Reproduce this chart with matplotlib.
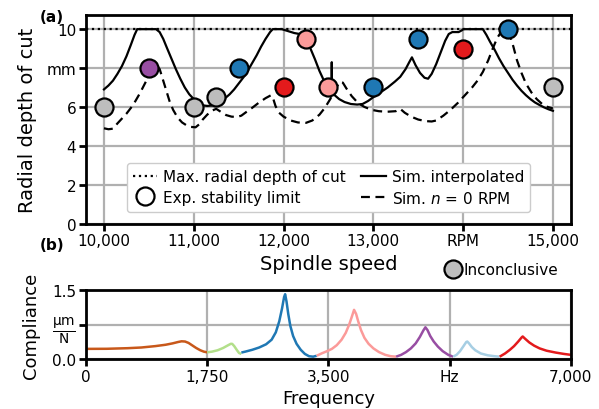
import numpy as np
import matplotlib
matplotlib.use("Agg")
import matplotlib.pyplot as plt
from matplotlib.lines import Line2D

plt.rcParams['font.family'] = ['DejaVu Sans']
plt.rcParams['font.size'] = 11
plt.rcParams['mathtext.fontset'] = 'dejavusans'

# Stability lobes: simulated limit, interpolated
sim_interp_rpm = [10000, 10050, 10100, 10150, 10200, 10250, 10300, 10340, 10370, 10580,
                  10620, 10660, 10700, 10750, 10800, 10850, 10900, 10950, 11000, 11050,
                  11100, 11150, 11200, 11250, 11300, 11350, 11400, 11450, 11500, 11550,
                  11600, 11650, 11700, 11750, 11800, 11850, 11880, 11980, 12050, 12120,
                  12180, 12220, 12260, 12300, 12350, 12400, 12450, 12500, 12535, 12537,
                  12540, 12570, 12620, 12680, 12750, 12820, 12880, 12940, 13000, 13080,
                  13160, 13240, 13300, 13360, 13400, 13430, 13470, 13520, 13570, 13610,
                  13650, 13700, 13750, 13800, 13840, 13880, 13950, 13990, 14000, 14220,
                  14260, 14300, 14350, 14400, 14450, 14500, 14550, 14600, 14650, 14700,
                  14750, 14800, 14850, 14900, 14950, 15000]
sim_interp_depth = [6.9, 7.1, 7.35, 7.7, 8.1, 8.6, 9.2, 9.7, 10.0, 10.0,
                    9.85, 9.5, 9.05, 8.5, 7.95, 7.45, 7.0, 6.65, 6.4, 6.2,
                    6.08, 6.05, 6.07, 6.15, 6.3, 6.45, 6.65, 6.9, 7.2, 7.5,
                    7.85, 8.25, 8.65, 9.1, 9.5, 9.85, 10.0, 10.0, 9.9, 9.8,
                    9.75, 9.6, 9.35, 9.0, 8.45, 7.85, 7.35, 7.0, 6.82, 8.3,
                    6.78, 6.6, 6.4, 6.25, 6.15, 6.12, 6.15, 6.3, 6.5, 6.75,
                    7.0, 7.3, 7.55, 7.95, 8.3, 8.55, 8.15, 7.75, 7.5, 7.45,
                    7.7, 8.2, 8.8, 9.4, 9.75, 9.85, 9.85, 9.95, 10.0, 10.0,
                    9.7, 9.35, 8.95, 8.5, 8.1, 7.75, 7.4, 7.1, 6.83, 6.6,
                    6.4, 6.23, 6.1, 5.98, 5.88, 5.8]

# Stability lobes: simulated limit at n = 0 RPM
sim_n0_rpm = [10000, 10050, 10100, 10150, 10200, 10250, 10300, 10350, 10400, 10450,
              10500, 10550, 10590, 10620, 10650, 10690, 10730, 10770, 10820, 10870,
              10920, 10970, 11020, 11060, 11100, 11150, 11200, 11250, 11300, 11360,
              11420, 11480, 11530, 11580, 11650, 11720, 11800, 11860, 11880, 11910,
              11950, 12000, 12080, 12160, 12250, 12320, 12400, 12460, 12520, 12580,
              12630, 12660, 12700, 12760, 12830, 12900, 12980, 13060, 13150, 13250,
              13300, 13350, 13420, 13500, 13580, 13650, 13700, 13780, 13860, 13940,
              14020, 14100, 14160, 14220, 14280, 14330, 14380, 14430, 14480, 14520,
              14560, 14600, 14650, 14700, 14760, 14820, 14880, 14940, 15000]
sim_n0_depth = [4.9, 4.85, 4.88, 5.15, 5.4, 5.65, 5.95, 6.3, 6.7, 7.15,
                7.6, 7.95, 8.1, 7.95, 7.5, 6.9, 6.3, 5.85, 5.45, 5.2,
                5.05, 4.97, 4.95, 5.1, 5.35, 5.6, 5.8, 5.9, 5.75, 5.58,
                5.5, 5.48, 5.55, 5.72, 5.95, 6.2, 6.45, 6.6, 6.5, 6.05,
                5.7, 5.5, 5.3, 5.2, 5.18, 5.3, 5.6, 5.95, 6.4, 6.95,
                7.3, 7.25, 6.95, 6.55, 6.2, 6.0, 5.85, 5.78, 5.75, 5.78,
                5.9, 5.7, 5.5, 5.35, 5.27, 5.25, 5.3, 5.55, 5.85, 6.2,
                6.6, 7.0, 7.35, 7.8, 8.4, 9.0, 9.55, 9.9, 10.0, 9.7,
                9.1, 8.4, 7.75, 7.2, 6.75, 6.4, 6.15, 6.0, 5.92]

max_depth = 10

# Experimental stability limit
exp_rpm = [10000, 10500, 11000, 11250, 11500, 12000, 12250, 12500, 13000, 13500, 14000, 14500, 15000]
exp_depth = [6, 8, 6, 6.5, 8, 7, 9.5, 7, 7, 9.5, 9, 10, 7]
exp_mode = ['gray', 'purple', 'gray', 'gray', 'blue', 'red', 'pink', 'pink',
            'blue', 'blue', 'red', 'blue', 'gray']

mode_colors = {
    'brown': '#c8581a',
    'green': '#b2df8a',
    'blue': '#1f78b4',
    'pink': '#fb9a99',
    'purple': '#984ea3',
    'lightblue': '#a6cee3',
    'red': '#e31a1c',
    'gray': '#bdbdbd',
}

# Compliance FRF, split by dominant mode
frf_segments = {
    'brown': ([0, 300, 600, 800, 1000, 1150, 1250, 1330, 1380, 1430, 1480, 1530, 1590, 1650, 1700, 1750],
              [0.22, 0.222, 0.235, 0.25, 0.28, 0.31, 0.34, 0.37, 0.385, 0.38, 0.35, 0.3, 0.24, 0.19, 0.16, 0.145]),
    'green': ([1750, 1820, 1900, 1980, 2040, 2090, 2110, 2140, 2180, 2210, 2243],
              [0.145, 0.16, 0.19, 0.24, 0.29, 0.33, 0.33, 0.28, 0.19, 0.13, 0.11]),
    'blue': ([2243, 2300, 2400, 2500, 2600, 2680, 2740, 2790, 2830, 2860, 2875, 2895, 2920, 2950,
              2990, 3040, 3100, 3160, 3220, 3280, 3330],
             [0.14, 0.16, 0.2, 0.25, 0.32, 0.42, 0.58, 0.82, 1.1, 1.35, 1.41, 1.25, 0.98, 0.72,
              0.5, 0.33, 0.2, 0.11, 0.06, 0.05, 0.07]),
    'pink': ([3330, 3400, 3480, 3550, 3620, 3690, 3750, 3800, 3840, 3870, 3900, 3930, 3970, 4020,
              4080, 4150, 4230, 4320, 4400, 4477],
             [0.07, 0.12, 0.17, 0.22, 0.3, 0.42, 0.57, 0.75, 0.93, 1.07, 0.98, 0.82, 0.63, 0.46,
              0.33, 0.23, 0.15, 0.09, 0.06, 0.05]),
    'purple': ([4477, 4550, 4620, 4690, 4760, 4820, 4870, 4900, 4930, 4970, 5020, 5080, 5150, 5230, 5300],
               [0.05, 0.09, 0.15, 0.23, 0.34, 0.48, 0.62, 0.69, 0.63, 0.5, 0.38, 0.27, 0.17, 0.09, 0.05]),
    'lightblue': ([5300, 5350, 5400, 5450, 5490, 5505, 5530, 5570, 5620, 5700, 5800, 5900, 5972],
                  [0.05, 0.09, 0.17, 0.28, 0.37, 0.38, 0.34, 0.26, 0.19, 0.12, 0.08, 0.06, 0.05]),
    'red': ([5972, 6050, 6120, 6180, 6240, 6290, 6305, 6340, 6400, 6470, 6550, 6650, 6780, 6900, 7000],
            [0.05, 0.12, 0.2, 0.28, 0.38, 0.47, 0.49, 0.44, 0.36, 0.29, 0.23, 0.18, 0.14, 0.11, 0.09]),
}

rpm_ticks = [10000, 11000, 12000, 13000, 14000, 15000]
rpm_labels = ['10,000', '11,000', '12,000', '13,000', 'RPM', '15,000']
depth_ticks = [0, 2, 4, 6, 8, 10]
depth_labels = ['0', '2', '4', '6', 'mm', '10']
freq_ticks = [0, 1750, 3500, 5250, 7000]
freq_labels = ['0', '1,750', '3,500', 'Hz', '7,000']
comp_ticks = [0, 0.75, 1.5]
comp_labels = ['0.0', r'$\frac{\mathrm{\mu m}}{\mathrm{N}}$', '1.5']

fig = plt.figure(figsize=(5.99, 4.10), dpi=100)
ax1 = fig.add_axes([0.1436, 0.4524, 0.8094, 0.5096])
ax2 = fig.add_axes([0.1436, 0.122, 0.8094, 0.168])

def style_axes(ax):
    for s in ax.spines.values():
        s.set_linewidth(2)
    ax.tick_params(width=2, length=5, labelsize=11, pad=2)
    ax.grid(True, color='#b0b0b0', linewidth=1.6)
    ax.set_axisbelow(True)

# (a) stability chart
style_axes(ax1)
ax1.axhline(max_depth, color='k', linestyle=':', linewidth=1.6)
ax1.plot(sim_interp_rpm, sim_interp_depth, color='k', linewidth=1.6)
ax1.plot(sim_n0_rpm, sim_n0_depth, color='k', linewidth=1.6, linestyle=(0, (4, 2.5)))
for r, d, m in zip(exp_rpm, exp_depth, exp_mode):
    ax1.plot(r, d, 'o', markersize=13, markerfacecolor=mode_colors[m],
             markeredgecolor='k', markeredgewidth=1.6, zorder=5)
ax1.set_xlim(9800, 15200)
ax1.set_ylim(0, 10.75)
ax1.set_xticks(rpm_ticks)
ax1.set_xticklabels(rpm_labels)
ax1.set_yticks(depth_ticks)
ax1.set_yticklabels(depth_labels)
ax1.set_xlabel('Spindle speed', fontsize=14, labelpad=4)
ax1.set_ylabel('Radial depth of cut', fontsize=14, labelpad=7)

handles = [
    Line2D([], [], color='k', linestyle=':', linewidth=1.6),
    Line2D([], [], linestyle='none', marker='o', markersize=13,
           markerfacecolor='white', markeredgecolor='k', markeredgewidth=1.6),
    Line2D([], [], color='k', linewidth=1.6),
    Line2D([], [], color='k', linewidth=1.6, linestyle=(0, (4, 2.5))),
]
labels = ['Max. radial depth of cut', 'Exp. stability limit',
          'Sim. interpolated', r'Sim. $n$ = 0 RPM']
ax1.legend(handles, labels, ncol=2, loc='lower center', bbox_to_anchor=(0.5, 0.02),
           fontsize=11, handlelength=1.6, handletextpad=0.4, columnspacing=1.0,
           borderpad=0.4, labelspacing=0.35, framealpha=1, edgecolor='#cccccc')

fig.legend([Line2D([], [], linestyle='none', marker='o', markersize=13,
                   markerfacecolor=mode_colors['gray'], markeredgecolor='k',
                   markeredgewidth=1.6)],
           ['Inconclusive'], loc='center', bbox_to_anchor=(0.837, 0.34),
           frameon=False, fontsize=11, handletextpad=0.1, handlelength=1.2)

# (b) compliance
style_axes(ax2)
for m, (f, c) in frf_segments.items():
    ax2.plot(f, c, color=mode_colors[m], linewidth=1.8, solid_capstyle='butt',
             solid_joinstyle='round')
ax2.set_xlim(0, 7000)
ax2.set_ylim(0, 1.5)
ax2.set_xticks(freq_ticks)
ax2.set_xticklabels(freq_labels)
ax2.set_yticks(comp_ticks)
ax2.set_yticklabels(comp_labels)
ax2.get_yticklabels()[1].set_fontsize(14)
ax2.set_xlabel('Frequency', fontsize=13, labelpad=4)
ax2.set_ylabel('Compliance', fontsize=13, labelpad=9)

fig.text(0.067, 0.958, '(a)', fontsize=11, fontweight='bold', ha='left', va='center')
fig.text(0.067, 0.402, '(b)', fontsize=11, fontweight='bold', ha='left', va='center')

fig.savefig('out.png', dpi=100)
